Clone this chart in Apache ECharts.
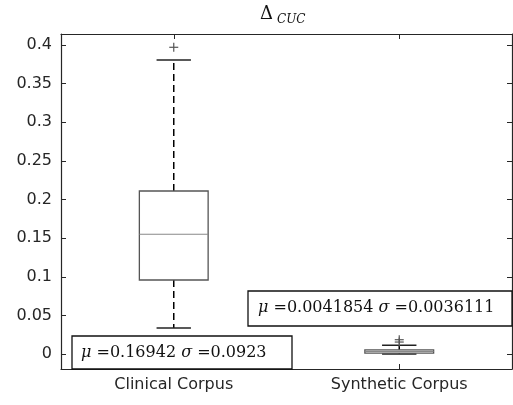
<!DOCTYPE html>
<html>
<head>
<meta charset="utf-8">
<script src="https://cdn.jsdelivr.net/npm/echarts@6/dist/echarts.min.js"></script>
<style>html,body{margin:0;padding:0;background:#fff;}#main{width:513px;height:405px;}</style>
</head>
<body>
<div id="main"></div>
<script>
const categories = ['Clinical Corpus', 'Synthetic Corpus'];
const lowerWhisker = [0.0337, 0.0];
const q1 = [0.0958, 0.0012];
const median = [0.155, 0.0033];
const q3 = [0.211, 0.0054];
const upperWhisker = [0.3806, 0.0115];
const outlierCat = [0, 1, 1];
const outlierVal = [0.397, 0.0155, 0.0185];
const yTicks = [0, 0.05, 0.1, 0.15, 0.2, 0.25, 0.3, 0.35, 0.4];
const annotationTexts = ['{i|μ} =0.16942 {i|σ} =0.0923', '{i|μ} =0.0041854 {i|σ} =0.0036111'];

const chart = echarts.init(document.getElementById('main'), null, {renderer: 'canvas'});
const axisColor = '#262626';
const sansFont = 'DejaVu Sans';
const serifFont = 'DejaVu Serif';

const boxData = categories.map((c, i) => [i, lowerWhisker[i], q1[i], median[i], q3[i], upperWhisker[i]]);
const outData = outlierCat.map((c, i) => [c, outlierVal[i]]);

function renderBox(params, api) {
  const ci = api.value(0);
  const band = api.size([1, 0])[0];
  const bw = band * 0.305;
  const cw = bw / 2;
  const pLw = api.coord([ci, api.value(1)]);
  const pQ1 = api.coord([ci, api.value(2)]);
  const pMed = api.coord([ci, api.value(3)]);
  const pQ3 = api.coord([ci, api.value(4)]);
  const pUw = api.coord([ci, api.value(5)]);
  const x = pQ1[0];
  const dash = {stroke: '#000', lineWidth: 1.5, lineDash: [7, 4]};
  return {
    type: 'group',
    children: [
      {type: 'line', shape: {x1: x, y1: pQ3[1], x2: x, y2: pUw[1]}, style: dash},
      {type: 'line', shape: {x1: x, y1: pQ1[1], x2: x, y2: pLw[1]}, style: dash},
      {type: 'line', shape: {x1: x - cw / 2, y1: pUw[1], x2: x + cw / 2, y2: pUw[1]}, style: {stroke: '#222', lineWidth: 1.5}},
      {type: 'line', shape: {x1: x - cw / 2, y1: pLw[1], x2: x + cw / 2, y2: pLw[1]}, style: {stroke: '#222', lineWidth: 1.5}},
      {type: 'rect', shape: {x: x - bw / 2, y: pQ3[1], width: bw, height: pQ1[1] - pQ3[1]}, style: {fill: 'rgba(0,0,0,0)', stroke: '#555', lineWidth: 1.3}},
      {type: 'line', shape: {x1: x - bw / 2, y1: pMed[1], x2: x + bw / 2, y2: pMed[1]}, style: {stroke: '#888', lineWidth: 1.2}}
    ]
  };
}

function renderOutlier(params, api) {
  const p = api.coord([api.value(0), api.value(1)]);
  const s = 4.5;
  const st = {stroke: '#555', lineWidth: 1.2};
  return {
    type: 'group',
    children: [
      {type: 'line', shape: {x1: p[0] - s, y1: p[1], x2: p[0] + s, y2: p[1]}, style: st},
      {type: 'line', shape: {x1: p[0], y1: p[1] - s, x2: p[0], y2: p[1] + s}, style: st}
    ]
  };
}

const tickCommon = {show: true, inside: true, length: 5, lineStyle: {color: axisColor, width: 1}};
const lineCommon = {show: true, onZero: false, lineStyle: {color: axisColor, width: 1.2}};

const option = {
  backgroundColor: '#fff',
  animation: false,
  grid: {left: 61, right: 1, top: 34, bottom: 36, containLabel: false},
  xAxis: [
    {type: 'category', data: categories, position: 'bottom', boundaryGap: true,
     axisLine: lineCommon, axisTick: Object.assign({alignWithLabel: true}, tickCommon),
     axisLabel: {color: axisColor, fontFamily: sansFont, fontSize: 16, margin: 8}},
    {type: 'category', data: categories, position: 'top', boundaryGap: true,
     axisLine: lineCommon, axisTick: Object.assign({alignWithLabel: true}, tickCommon),
     axisLabel: {show: false}}
  ],
  yAxis: [
    {type: 'value', min: -0.0194, max: 0.4142, position: 'left', splitLine: {show: false},
     axisLine: lineCommon, axisTick: Object.assign({customValues: yTicks}, tickCommon),
     axisLabel: {customValues: yTicks, color: axisColor, fontFamily: sansFont, fontSize: 16, margin: 9}},
    {type: 'value', min: -0.0194, max: 0.4142, position: 'right', splitLine: {show: false},
     axisLine: lineCommon, axisTick: Object.assign({customValues: yTicks}, tickCommon),
     axisLabel: {show: false}}
  ],
  series: [
    {type: 'custom', renderItem: renderBox, data: boxData, xAxisIndex: 0, yAxisIndex: 0, z: 3},
    {type: 'custom', renderItem: renderOutlier, data: outData, xAxisIndex: 0, yAxisIndex: 0, z: 3}
  ],
  graphic: [
    {type: 'text', z: 10, x: 260, y: 23, style: {text: 'Δ', font: '18px ' + serifFont, fill: '#111', verticalAlign: 'bottom'}},
    {type: 'text', z: 10, x: 277, y: 26, style: {text: 'CUC', font: 'italic 12px ' + serifFont, fill: '#111', verticalAlign: 'bottom'}},
    {type: 'rect', z: 10, shape: {x: 72, y: 336, width: 220, height: 33}, style: {fill: '#fff', stroke: '#111', lineWidth: 1.3}},
    {type: 'text', z: 11, x: 81, y: 353, style: {text: annotationTexts[0], verticalAlign: 'middle', font: '16px ' + serifFont, fill: '#111',
      rich: {i: {fontStyle: 'italic', fontFamily: serifFont, fontSize: 16}}}},
    {type: 'rect', z: 10, shape: {x: 248, y: 291, width: 264, height: 35}, style: {fill: '#fff', stroke: '#111', lineWidth: 1.3}},
    {type: 'text', z: 11, x: 258, y: 308, style: {text: annotationTexts[1], verticalAlign: 'middle', font: '16px ' + serifFont, fill: '#111',
      rich: {i: {fontStyle: 'italic', fontFamily: serifFont, fontSize: 16}}}}
  ]
};
chart.setOption(option);
</script>
</body>
</html>
